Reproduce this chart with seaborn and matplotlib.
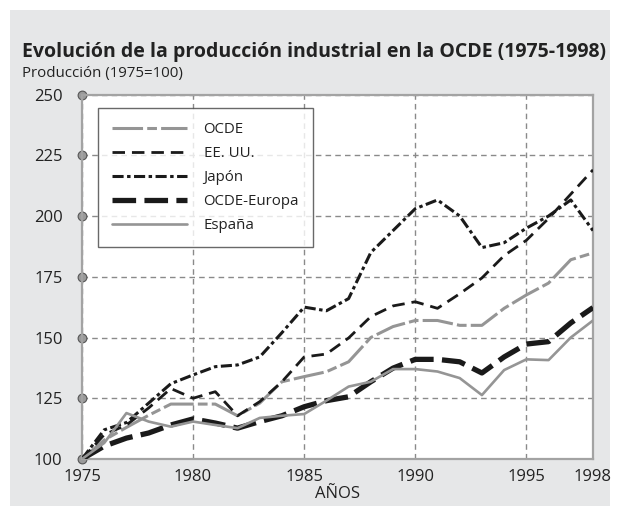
import matplotlib
matplotlib.use("Agg")
import matplotlib.pyplot as plt
import seaborn as sns
import pandas as pd
from matplotlib.patches import Rectangle

# production index, 1975 = 100
years = list(range(1975, 1999))
ocde = [100, 107.8, 113, 118, 122.6, 122.6, 122.6, 117.8, 123, 131.8, 133.9, 135.9,
        140, 150, 154.5, 157, 157, 155, 155, 162, 167.5, 172.4, 182, 184.8]
eeuu = [100, 110, 114, 121, 129, 125, 127.7, 117.8, 123.6, 131.8, 142, 143.2,
        149.8, 158.6, 163, 164.7, 162, 168, 174.5, 183.7, 190, 199, 209, 219]
japon = [100, 112, 115, 123, 131, 134.6, 138, 138.7, 142, 152, 162.5, 161,
         166, 185, 194, 203, 206.6, 200, 187, 189, 195, 200, 206.6, 194]
europa = [100, 105.3, 108.6, 110.7, 114, 116.5, 114.8, 112.7, 115.4, 117.8, 121.5, 124,
          125.6, 131.8, 137.4, 141, 141, 140, 135.4, 142, 147.3, 148.3, 156, 162.3]
espana = [100, 106.6, 118.9, 115.4, 113.3, 115.4, 114, 112.7, 116.9, 117.8, 118.5, 124,
          129.8, 131.8, 137, 137, 136, 133.3, 126.3, 136.6, 141, 140.7, 150, 157]

labels = ["OCDE", "EE. UU.", "Japón", "OCDE-Europa", "España"]
xticks = [1975, 1980, 1985, 1990, 1995, 1998]
yticks = [100, 125, 150, 175, 200, 225, 250]

df = pd.DataFrame({"year": years, "OCDE": ocde, "EE. UU.": eeuu, "Japón": japon,
                   "OCDE-Europa": europa, "España": espana})

sns.set_style("white")
plt.rcParams["font.family"] = ["Open Sans", "DejaVu Sans"]
plt.rcParams["lines.scale_dashes"] = False

gray = "#959595"
black = "#1a1a1a"
styles = {
    "OCDE": dict(color=gray, lw=2.2, ls=(0, (22, 3, 7, 3))),
    "EE. UU.": dict(color=black, lw=2.0, ls=(0, (9, 5))),
    "Japón": dict(color=black, lw=2.2, ls=(0, (8, 2.5, 2.5, 2.5))),
    "OCDE-Europa": dict(color=black, lw=3.8, ls=(0, (17, 6))),
    "España": dict(color=gray, lw=1.9, ls="-"),
}

fig = plt.figure(figsize=(6.2, 5.16), dpi=100, facecolor="white")
# grey panel behind everything
fig.patches.append(Rectangle((10 / 620, 10 / 516), 600 / 620, 496 / 516,
                             transform=fig.transFigure, facecolor="#e6e7e8",
                             edgecolor="none", zorder=-10))
ax = fig.add_axes([82 / 620, 1 - 459 / 516, 511 / 620, 364.5 / 516])
ax.set_facecolor("white")

for name in labels:
    s = styles[name]
    sns.lineplot(data=df, x="year", y=name, ax=ax, color=s["color"], linewidth=s["lw"],
                 linestyle=s["ls"], label=name, zorder=3)

ax.set_xlim(1975, 1998)
ax.set_ylim(100, 250)
ax.set_xticks(xticks)
ax.set_yticks(yticks)
ax.grid(True, color="#8a8a8a", linestyle=(0, (4, 3)), linewidth=1.0)
ax.set_axisbelow(True)
for sp in ax.spines.values():
    sp.set_color("#a3a3a3")
    sp.set_linewidth(1.6)

ax.tick_params(axis="x", bottom=False, length=0, pad=7, labelsize=12, labelcolor="#222222")
ax.tick_params(axis="y", left=True, length=6, pad=8, labelsize=12, labelcolor="#222222")
# round grey markers on the y axis
for t in ax.yaxis.get_major_ticks():
    t.tick1line.set_marker("o")
    t.tick1line.set_markersize(6.3)
    t.tick1line.set_markerfacecolor("#9a9a9a")
    t.tick1line.set_markeredgecolor("#555555")
    t.tick1line.set_markeredgewidth(0.8)
    t.tick1line.set_clip_on(False)

ax.set_xlabel("AÑOS", fontsize=12, color="#222222", labelpad=1)
ax.set_ylabel("")

leg = ax.legend(loc="upper left", bbox_to_anchor=(0.031, 0.963), borderaxespad=0,
                frameon=True, fancybox=False, fontsize=10.8, handlelength=5.0,
                handletextpad=1.1, labelspacing=0.6, borderpad=0.95)
leg.get_frame().set_edgecolor("#444444")
leg.get_frame().set_linewidth(1.0)
for txt in leg.get_texts():
    txt.set_color("#222222")

fig.text(22 / 620, 1 - 52 / 516, "Evolución de la producción industrial en la OCDE (1975-1998)",
         fontsize=14.0, fontweight="bold", color="#222222", va="center", ha="left")
fig.text(22 / 620, 1 - 73 / 516, "Producción (1975=100)", fontsize=10.8,
         color="#222222", va="center", ha="left")

fig.savefig("out.png", dpi=100, facecolor="white")
